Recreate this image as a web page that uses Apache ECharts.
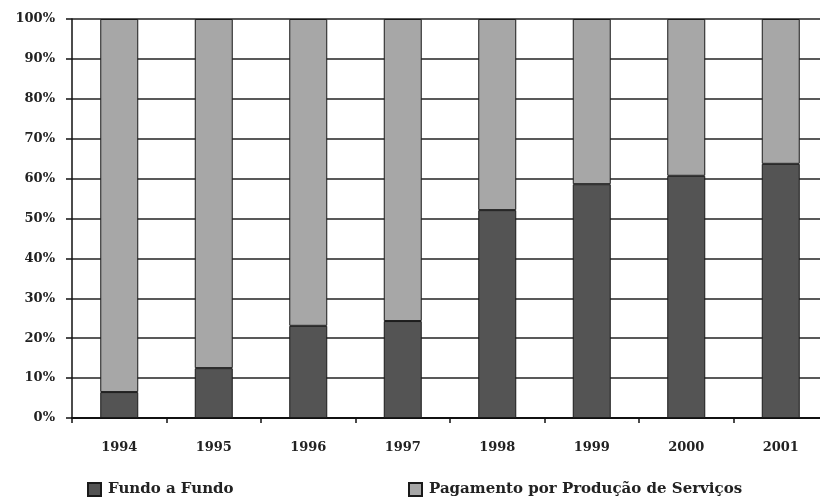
<!DOCTYPE html>
<html>
<head>
<meta charset="utf-8">
<script src="https://cdn.jsdelivr.net/npm/echarts@6/dist/echarts.min.js"></script>
<style>html,body{margin:0;padding:0;background:#fff;overflow:hidden;}#c{width:828px;height:500px;}</style>
</head>
<body>
<div id="c"></div>
<script>
const categories = ['1994','1995','1996','1997','1998','1999','2000','2001'];
const fundoAFundo = [6.5, 12.5, 23.1, 24.3, 52.1, 58.6, 60.7, 63.7];
const pagamento = [93.5, 87.5, 76.9, 75.7, 47.9, 41.4, 39.3, 36.3];
const seriesNames = ['Fundo a Fundo', 'Pagamento por Produção de Serviços'];

const font = '"DejaVu Serif", serif';
const chart = echarts.init(document.getElementById('c'), null, {renderer: 'canvas'});
chart.setOption({
  animation: false,
  backgroundColor: '#fff',
  grid: {left: 72, top: 19, right: 0, height: 399, containLabel: false},
  legend: [
    {data: [seriesNames[0]], left: 82, top: 477, itemWidth: 13, itemHeight: 13, icon: 'rect',
     textStyle: {fontFamily: font, fontWeight: 'bold', fontSize: 15, color: '#222', padding: [0,0,0,2]}},
    {data: [seriesNames[1]], left: 403, top: 477, itemWidth: 13, itemHeight: 13, icon: 'rect',
     textStyle: {fontFamily: font, fontWeight: 'bold', fontSize: 15, color: '#222', padding: [0,0,0,2]}}
  ],
  xAxis: {
    type: 'category', data: categories,
    axisLine: {lineStyle: {color: '#111', width: 2}},
    axisTick: {show: true, length: 5, lineStyle: {color: '#111', width: 1.5}},
    axisLabel: {margin: 23, fontFamily: font, fontWeight: 'bold', fontSize: 13, color: '#222'},
    splitLine: {show: false}
  },
  yAxis: {
    type: 'value', min: 0, max: 100, interval: 10,
    axisLine: {show: true, lineStyle: {color: '#111', width: 1.5}},
    axisTick: {show: true, length: 6, lineStyle: {color: '#111', width: 1.5}},
    axisLabel: {margin: 17, formatter: '{value}%', fontFamily: font, fontWeight: 'bold', fontSize: 13, color: '#222'},
    splitLine: {show: true, lineStyle: {color: '#222', width: 1.6}}
  },
  series: [
    {name: seriesNames[0], type: 'bar', stack: 'total', data: fundoAFundo, barWidth: 38,
     itemStyle: {color: '#545454', borderColor: '#1a1a1a', borderWidth: 1}},
    {name: seriesNames[1], type: 'bar', stack: 'total', data: pagamento, barWidth: 38,
     itemStyle: {color: '#a7a7a7', borderColor: '#1a1a1a', borderWidth: 1}}
  ]
});
</script>
</body>
</html>
